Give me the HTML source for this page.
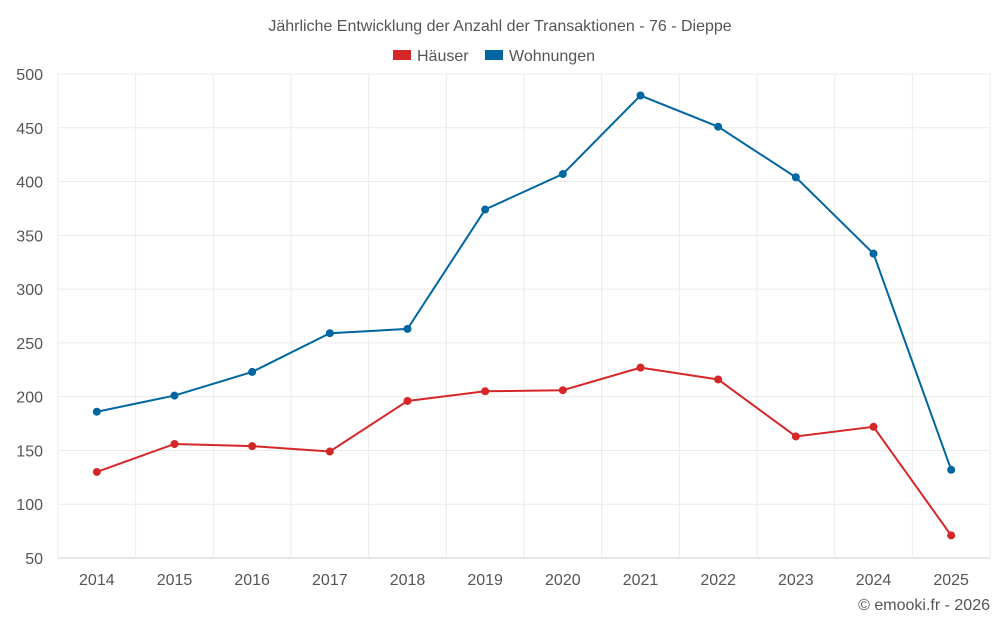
<!DOCTYPE html>
<html><head><meta charset="utf-8"><style>
body{margin:0;background:#fff;font-family:"Liberation Sans",sans-serif}
svg text{font-family:"Liberation Sans",sans-serif}
</style></head><body>
<svg id="chart" width="1000" height="625">
<text x="500" y="31" text-anchor="middle" font-size="16" fill="#555">Jährliche Entwicklung der Anzahl der Transaktionen - 76 - Dieppe</text>
<g>
<g><rect x="393" y="50" width="18" height="10" fill="#d62728"/><text x="417" y="61" font-size="16" fill="#555">Häuser</text></g>
<g><rect x="485" y="50" width="18" height="10" fill="#0066a1"/><text x="509" y="61" font-size="16" fill="#555">Wohnungen</text></g>
</g>
<g id="grid"></g>
<g id="axes"></g>
<g id="series"></g>
<text x="990" y="610" text-anchor="end" font-size="16" fill="#555">© emooki.fr - 2026</text>
</svg>
<script>
const years=["2014","2015","2016","2017","2018","2019","2020","2021","2022","2023","2024","2025"];
const haeuser=[130,156,154,149,196,205,206,227,216,163,172,71];
const wohnungen=[186,201,223,259,263,374,407,480,451,404,333,132];
const yTicks=[50,100,150,200,250,300,350,400,450,500];
const NS="http://www.w3.org/2000/svg";
const L=58,R=990,T=74,B=558;
const step=(R-L)/years.length;
const x=i=>L+step*(i+0.5);
const y=v=>B-(v-50)/450*(B-T);
function mk(tag,attrs,parent){const e=document.createElementNS(NS,tag);for(const k in attrs)e.setAttribute(k,attrs[k]);parent.appendChild(e);return e;}
const grid=document.getElementById('grid'),axes=document.getElementById('axes'),series=document.getElementById('series');
yTicks.forEach(t=>{
 const l=mk('line',{x1:L,x2:R,y1:y(t),y2:y(t),stroke:t===50?'#ccc':'#ebebeb'},grid);
 
 
 const tx=mk('text',{x:L-15,y:y(t)+6,'text-anchor':'end','font-size':16,fill:'#555'},axes);
 tx.textContent=t;
 
 
});
for(let i=0;i<=years.length;i++){
 const l=mk('line',{x1:L+step*i,x2:L+step*i,y1:T,y2:B,stroke:'#ebebeb'},grid);
 
 
}
years.forEach((yr,i)=>{
 const tx=mk('text',{x:x(i),y:585,'text-anchor':'middle','font-size':16,fill:'#555'},axes);
 tx.textContent=yr;
 
 
});
function draw(vals,color,name){
 const p=mk('polyline',{points:vals.map((v,i)=>x(i)+','+y(v)).join(' '),fill:'none',stroke:color,'stroke-width':2},series);
 
 
 vals.forEach((v,i)=>{
  const c=mk('circle',{cx:x(i),cy:y(v),r:4,fill:color},series);
  
  
 });
}
draw(wohnungen,'#0066a1','wohnungen');
draw(haeuser,'#d62728','haeuser');
</script>
</body></html>
